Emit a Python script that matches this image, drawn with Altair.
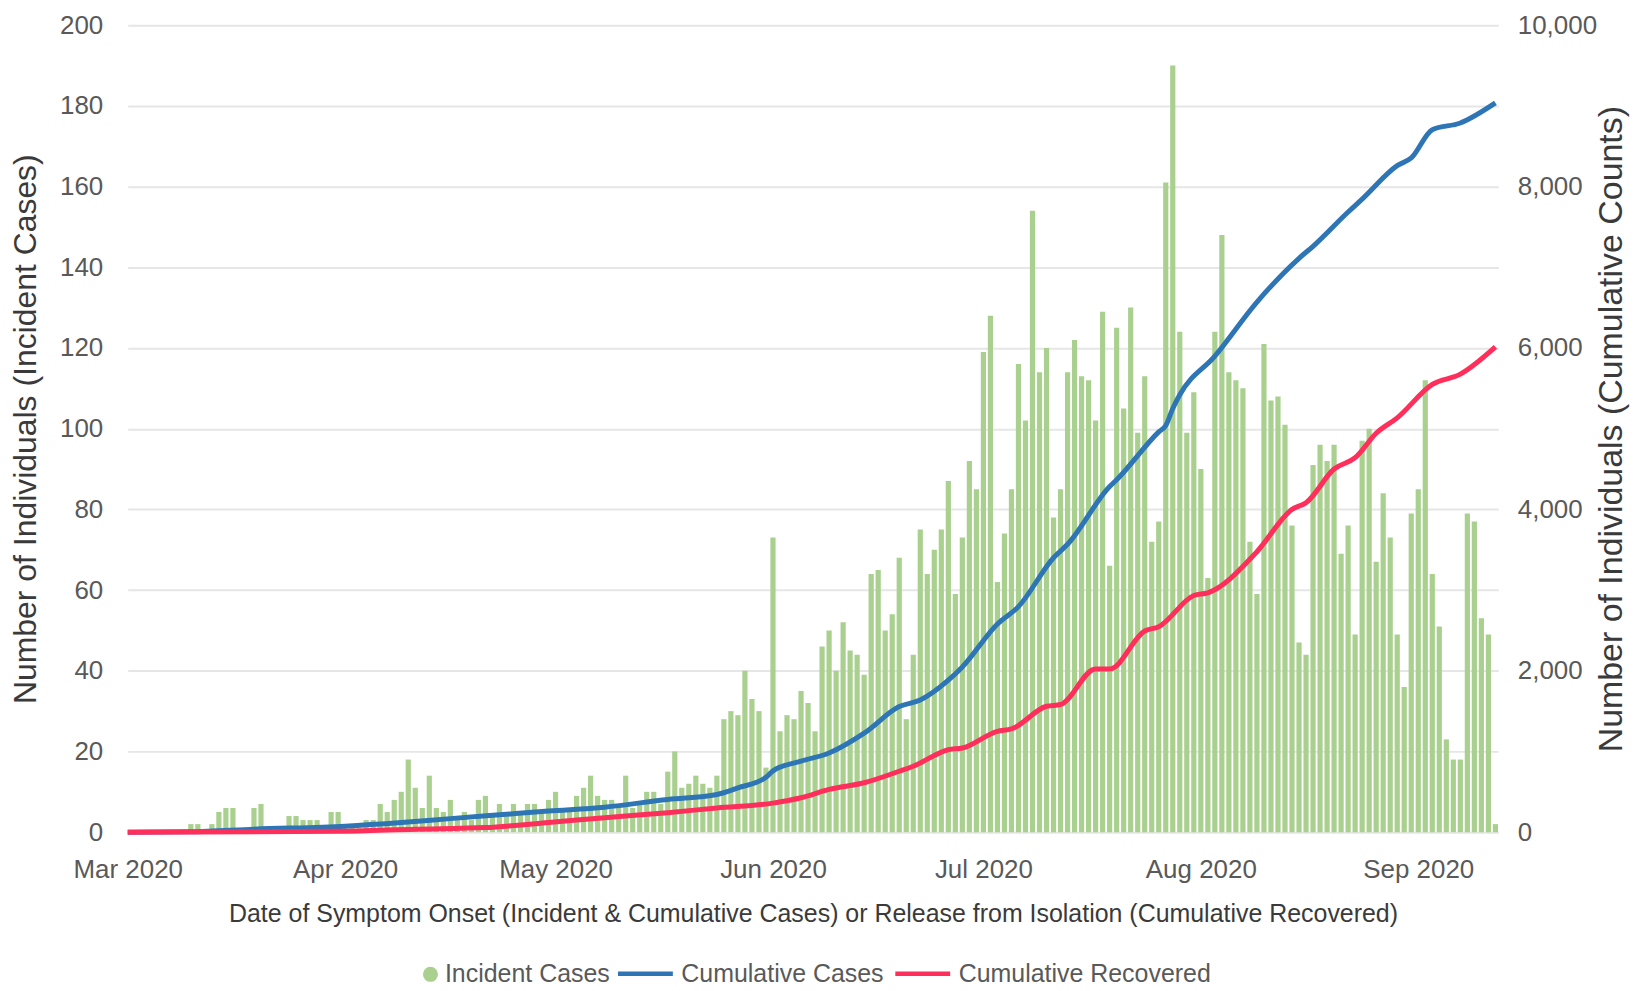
import altair as alt
import pandas as pd

# ---------------- data ----------------
start_date = "2020-03-01"
n_days = 196
dates = pd.date_range(start_date, periods=n_days, freq="D").strftime("%Y-%m-%d").tolist()

incident = [
    0, 0, 0, 0, 0, 0, 0, 0, 0,
    2, 2, 0, 2, 5, 6, 6, 0, 1, 6, 7,
    0, 1, 1, 4, 4, 3, 3, 3, 1, 5, 5,
    1, 2, 1, 3, 3, 7, 5, 8, 10, 18,
    11, 6, 14, 6, 5, 8, 3, 5, 3, 8,
    9, 4, 7, 4, 7, 5, 7, 7, 5, 8,
    10, 5, 5, 9, 11, 14, 9, 8, 8, 6,
    14, 6, 7, 10, 10, 7, 15, 20, 11, 12,
    14, 12, 11, 14, 28, 30, 29, 40, 33, 30,
    16, 73, 25, 29, 28, 35, 32, 25, 46, 50,
    40, 52, 45, 44, 39, 64, 65, 50, 54, 68,
    28, 44, 75, 64, 70, 75, 87, 59, 73, 92,
    85, 119, 128, 62, 74, 85, 116, 102, 154, 114,
    120, 78, 85, 114, 122, 113, 112, 102, 129, 66,
    125, 105, 130, 99, 113, 72, 77, 161, 190, 124,
    99, 109, 90, 63, 124, 148, 114, 112, 110, 72,
    59, 121, 107, 108, 101, 76, 47, 44, 91, 96,
    92, 96, 69, 76, 49, 97, 100, 67, 84, 73,
    49, 36, 79, 85, 112, 64, 51, 23, 18, 18,
    79, 77, 53, 49, 2,
]

cases_day = [0, 9, 18, 31, 39, 46, 53, 60, 68, 77, 84, 87, 91, 92, 96, 100, 105, 110,
             113, 117, 119, 124, 127, 132, 134, 140, 141, 147, 148, 149, 150, 155, 161,
             167, 169, 174, 176, 181, 183, 186, 190, 195]
cases_val = [0, 4, 37, 74, 119, 168, 215, 262, 310, 406, 467, 549, 680, 760, 880, 981,
             1227, 1556, 1638, 1884, 2048, 2580, 2795, 3401, 3567, 4283, 4366, 4960, 5040,
             5250, 5420, 5899, 6569, 7111, 7260, 7685, 7844, 8259, 8355, 8705, 8788, 9037]

rec_day = [0, 30, 41, 51, 60, 68, 77, 84, 92, 96, 100, 105, 110, 112, 117, 119, 124, 126,
           131, 133, 138, 140, 145, 147, 152, 154, 161, 166, 168, 172, 175, 178, 181, 186,
           190, 195]
rec_val = [0, 10, 37, 57, 120, 180, 242, 300, 360, 427, 530, 612, 755, 817, 1022, 1043,
           1250, 1279, 1560, 1582, 2023, 2023, 2492, 2547, 2933, 2966, 3476, 4000, 4082,
           4500, 4640, 4943, 5134, 5548, 5676, 6014]

left_ticks = list(range(0, 201, 20))
right_ticks = [0, 2000, 4000, 6000, 8000, 10000]
month_ticks = [(2020, m) for m in range(3, 10)]

bar_label = "Incident Cases"
line_labels = ["Cumulative Cases", "Cumulative Recovered"]

# ---------------- tables ----------------
bars_df = pd.DataFrame({"date": dates, "count": incident, "kind": bar_label})
lines_df = pd.concat([
    pd.DataFrame({"date": [dates[d] for d in cases_day], "value": cases_val, "series": line_labels[0]}),
    pd.DataFrame({"date": [dates[d] for d in rec_day], "value": rec_val, "series": line_labels[1]}),
])

# ---------------- style ----------------
FONT = "Liberation Sans, Arial, sans-serif"
LABEL_C = "#595959"
TITLE_C = "#3a3a3a"
GREEN = "#a9d08e"
BLUE = "#2e75b6"
RED = "#ff2e5b"

W, H = 1374, 809

x_scale = alt.Scale(
    type="utc",
    padding=0,
    domain=[alt.DateTime(year=2020, month=3, date=1, hours=0, utc=True),
            alt.DateTime(year=2020, month=9, date=12, hours=10, utc=True)],
)
x_axis = alt.Axis(
    values=[alt.DateTime(year=y, month=m, date=1, utc=True) for y, m in month_ticks],
    labelExpr="utcFormat(datum.value, '%b %Y')",
    title="Date of Symptom Onset (Incident & Cumulative Cases) or Release from Isolation (Cumulative Recovered)",
    titleFont=FONT, titleFontSize=25, titleFontWeight="normal", titleColor=TITLE_C,
    titleX=W / 2, titleY=90, titleBaseline="alphabetic", titleAlign="center",
    labelFont=FONT, labelFontSize=26, labelColor=LABEL_C, labelPadding=24,
    labelFlush=False, labelBound=False,
    grid=False, domain=False, ticks=False, tickSize=0, labelOverlap=False,
)

bars = alt.Chart(bars_df).mark_bar(size=5.2).encode(
    x=alt.X("date:T", scale=x_scale, axis=x_axis),
    y=alt.Y(
        "count:Q",
        scale=alt.Scale(domain=[0, 200], nice=False),
        axis=alt.Axis(
            values=left_ticks, orient="left",
            title="Number of Individuals (Incident Cases)",
            titleFont=FONT, titleFontSize=32, titleFontWeight="normal", titleColor=TITLE_C,
            titleAngle=270, titleX=-102, titleY=H / 2, titleBaseline="middle", titleAlign="center",
            labelFont=FONT, labelFontSize=26, labelColor=LABEL_C, labelPadding=25,
            grid=True, gridColor="#e6e6e6", gridWidth=2,
            domain=False, ticks=False, tickSize=0,
        ),
    ),
    fill=alt.Fill(
        "kind:N",
        scale=alt.Scale(domain=[bar_label], range=[GREEN]),
        legend=alt.Legend(
            title=None, orient="none", legendX=291, legendY=939, direction="horizontal",
            symbolType="circle", symbolSize=227, symbolStrokeWidth=0, symbolOpacity=1,
            labelFont=FONT, labelFontSize=25, labelColor=LABEL_C, labelOffset=2,
            labelLimit=500,
        ),
    ),
)

lines = alt.Chart(lines_df).mark_line(strokeWidth=5, interpolate="monotone").encode(
    x=alt.X("date:T", scale=x_scale, axis=x_axis),
    y=alt.Y(
        "value:Q",
        scale=alt.Scale(domain=[0, 10000], nice=False),
        axis=alt.Axis(
            values=right_ticks, orient="right",
            labelExpr="format(datum.value, ',')",
            title="Number of Individuals (Cumulative Counts)",
            titleFont=FONT, titleFontSize=34, titleFontWeight="normal", titleColor=TITLE_C,
            titleAngle=270, titleX=113, titleY=H / 2, titleBaseline="middle", titleAlign="center",
            labelFont=FONT, labelFontSize=26, labelColor=LABEL_C, labelPadding=19,
            grid=False, domain=False, ticks=False, tickSize=0,
        ),
    ),
    stroke=alt.Stroke(
        "series:N",
        scale=alt.Scale(domain=line_labels, range=[BLUE, RED]),
        legend=alt.Legend(
            title=None, orient="none", legendX=489, legendY=921, direction="horizontal",
            symbolType="stroke", symbolSize=3025, symbolStrokeWidth=4.5,
            columnPadding=2,
            labelFont=FONT, labelFontSize=25, labelColor=LABEL_C, labelOffset=6,
            labelLimit=500,
        ),
    ),
    order=alt.Order("date:T"),
)

chart = (
    alt.layer(bars, lines)
    .resolve_scale(y="independent")
    .properties(
        width=W, height=H,
        autosize=alt.AutoSizeParams(type="none"),
        padding={"left": 120, "top": 16, "right": 135, "bottom": 153},
        background="white",
    )
    .configure_view(stroke=None)
)

chart.save("out.html", embed_options={"renderer": "svg", "actions": False})
